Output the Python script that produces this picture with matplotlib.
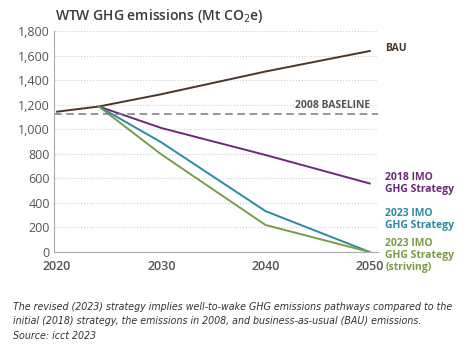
import numpy as np
import matplotlib.pyplot as plt

years_bau = [2020, 2024, 2030, 2040, 2050]
bau = [1143, 1185, 1285, 1470, 1637]

years_strat = [2024, 2030, 2040, 2050]
imo2018 = [1185, 1010, 790, 558]
imo2023 = [1185, 893, 333, 0]
imo2023_striving = [1185, 795, 220, 0]

baseline_2008 = 1120

yticks = [0, 200, 400, 600, 800, 1000, 1200, 1400, 1600, 1800]
xticks = [2020, 2030, 2040, 2050]

c_bau = '#4b3428'
c_2018 = '#6a2a78'
c_2023 = '#2b8aa3'
c_striv = '#7a9c46'
c_axis = '#555555'

plt.rcParams['font.family'] = ['Open Sans', 'DejaVu Sans']

fig = plt.figure(figsize=(4.67, 3.52), dpi=100)
ax = fig.add_axes([0.1156, 0.284, 0.694, 0.628])

ax.plot(years_bau, bau, color=c_bau, lw=1.4)
ax.plot(years_strat, imo2018, color=c_2018, lw=1.4)
ax.plot(years_strat, imo2023, color=c_2023, lw=1.4)
ax.plot(years_strat, imo2023_striving, color=c_striv, lw=1.4)
ax.axhline(baseline_2008, color='#7a7a7a', lw=1.1, ls=(0, (5, 3)))

ax.set_xlim(2019.7, 2050.8)
ax.set_ylim(0, 1800)
ax.set_yticks(yticks)
ax.set_yticklabels([f'{v:,}' for v in yticks])
ax.set_xticks(xticks)
ax.yaxis.grid(True, color='#cccccc', ls=':', lw=0.8)
ax.set_axisbelow(True)
for s in ['top', 'right']:
    ax.spines[s].set_visible(False)
for s in ['left', 'bottom']:
    ax.spines[s].set_color('#aaaaaa')
ax.tick_params(length=0, colors=c_axis, labelsize=9)
for lab in ax.get_xticklabels():
    lab.set_fontweight('semibold')
ax.tick_params(axis='x', pad=6)
ax.tick_params(axis='y', pad=3)

ax.text(2050, baseline_2008 + 30, '2008 BASELINE', ha='right', va='bottom',
        color='#555555', fontsize=7.5, fontweight='bold')
lx = 2051.5
ax.text(lx, 1660, 'BAU', color=c_bau, fontsize=7.5, fontweight='bold', va='center')
ax.text(lx, 560, '2018 IMO\nGHG Strategy', color=c_2018, fontsize=7.5,
        fontweight='bold', va='center', linespacing=1.1)
ax.text(lx, 268, '2023 IMO\nGHG Strategy', color=c_2023, fontsize=7.5,
        fontweight='bold', va='center', linespacing=1.1)
ax.text(lx, -30, '2023 IMO\nGHG Strategy\n(striving)', color=c_striv, fontsize=7.5,
        fontweight='bold', va='center', linespacing=1.1)

fig.text(0.118, 0.955, 'WTW GHG emissions (Mt CO$_2$e)', color='#3a3a3a',
         fontsize=10, fontweight='semibold', va='center')

caption = ('The revised (2023) strategy implies well-to-wake GHG emissions pathways compared to the\n'
           'initial (2018) strategy, the emissions in 2008, and business-as-usual (BAU) emissions.\n'
           'Source: icct 2023')
fig.text(0.028, 0.087, caption, fontsize=6.85, style='italic', color='#333333',
         family='DejaVu Sans', va='center', linespacing=1.55)

fig.savefig('out.png', dpi=100)
